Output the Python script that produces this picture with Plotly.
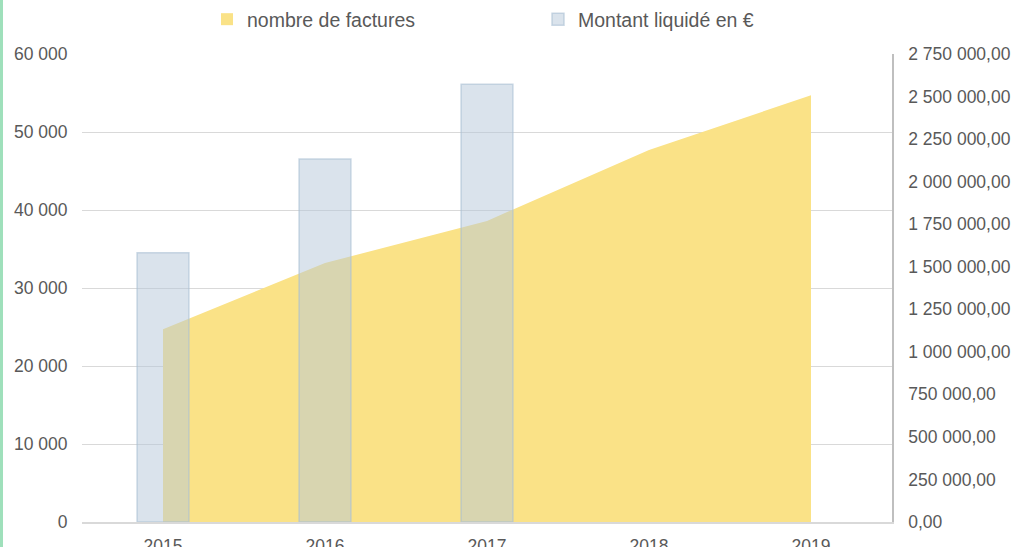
import plotly.graph_objects as go

years = ["2015", "2016", "2017", "2018", "2019"]
nb_factures = [24700, 33200, 38600, 47700, 54700]
bar_years = ["2015", "2016", "2017"]
montant = [1582000, 2133000, 2572000]

W, H = 1011, 547
L, R, T, B = 82, 119, 54, 25
PW, PH = W - L - R, H - T - B
text_col = "#595959"
font_fam = "Liberation Sans, Arial, sans-serif"
yellow = "#FAE287"

fig = go.Figure()
fig.add_trace(go.Scatter(
    x=years, y=nb_factures, name="nombre de factures",
    mode="lines", line=dict(width=0, color=yellow),
    fill="tozeroy", fillcolor=yellow, yaxis="y", showlegend=False,
))
# legend swatch for the area series (square, like the reference)
fig.add_trace(go.Bar(
    x=[years[0]], y=[None], name="nombre de factures",
    marker=dict(color=yellow, line=dict(width=0)),
    width=0.32, offset=-0.16, yaxis="y", hoverinfo="skip",
))
fig.add_trace(go.Bar(
    x=bar_years, y=montant, name="Montant liquidé en €",
    marker=dict(color="rgba(181,199,217,0.5)",
                line=dict(color="rgba(170,192,212,0.6)", width=1.5)),
    width=0.32, offset=-0.16, yaxis="y2",
))

fig.update_layout(
    width=W, height=H,
    margin=dict(l=L, r=R, t=T, b=B, autoexpand=False),
    paper_bgcolor="white", plot_bgcolor="white",
    separators=", ",
    font=dict(family=font_fam, size=17.5, color=text_col),
    showlegend=True,
    legend=dict(orientation="h", xref="container", x=207 / W, xanchor="left",
                yref="container", y=1, yanchor="top",
                font=dict(size=19.5, color=text_col),
                entrywidth=286, traceorder="normal", itemwidth=30,
                bgcolor="rgba(0,0,0,0)"),
    xaxis=dict(type="category", categoryorder="array", categoryarray=years,
               range=[-0.5, 4.5], showgrid=False, showline=True, automargin=False,
               linecolor="#d9d9d9", linewidth=1.5, ticks="outside", ticklen=7,
               tickcolor="rgba(0,0,0,0)", tickfont=dict(size=17.5)),
    yaxis=dict(range=[0, 60000], dtick=10000, tickformat=",d", showgrid=True,
               gridcolor="#d9d9d9", gridwidth=1, zeroline=False, showline=False,
               automargin=False,
               ticks="outside", ticklen=10, tickcolor="rgba(0,0,0,0)"),
    yaxis2=dict(range=[0, 2750000], dtick=250000, tickformat=",.2f", overlaying="y",
                side="right", showgrid=False, zeroline=False, showline=True,
                automargin=False,
                linecolor="#bfbfbf", linewidth=1.5,
                ticks="outside", ticklen=11, tickcolor="rgba(0,0,0,0)"),
)

fig.add_shape(type="rect", xref="paper", yref="paper",
              x0=-L / PW, x1=(3 - L) / PW,
              y0=-B / PH, y1=(H - B) / PH,
              fillcolor="#9fe0bb", line=dict(width=0), layer="above")

fig.write_html("out.html", config={"displayModeBar": False},
               post_script="document.body.style.margin='0';")
